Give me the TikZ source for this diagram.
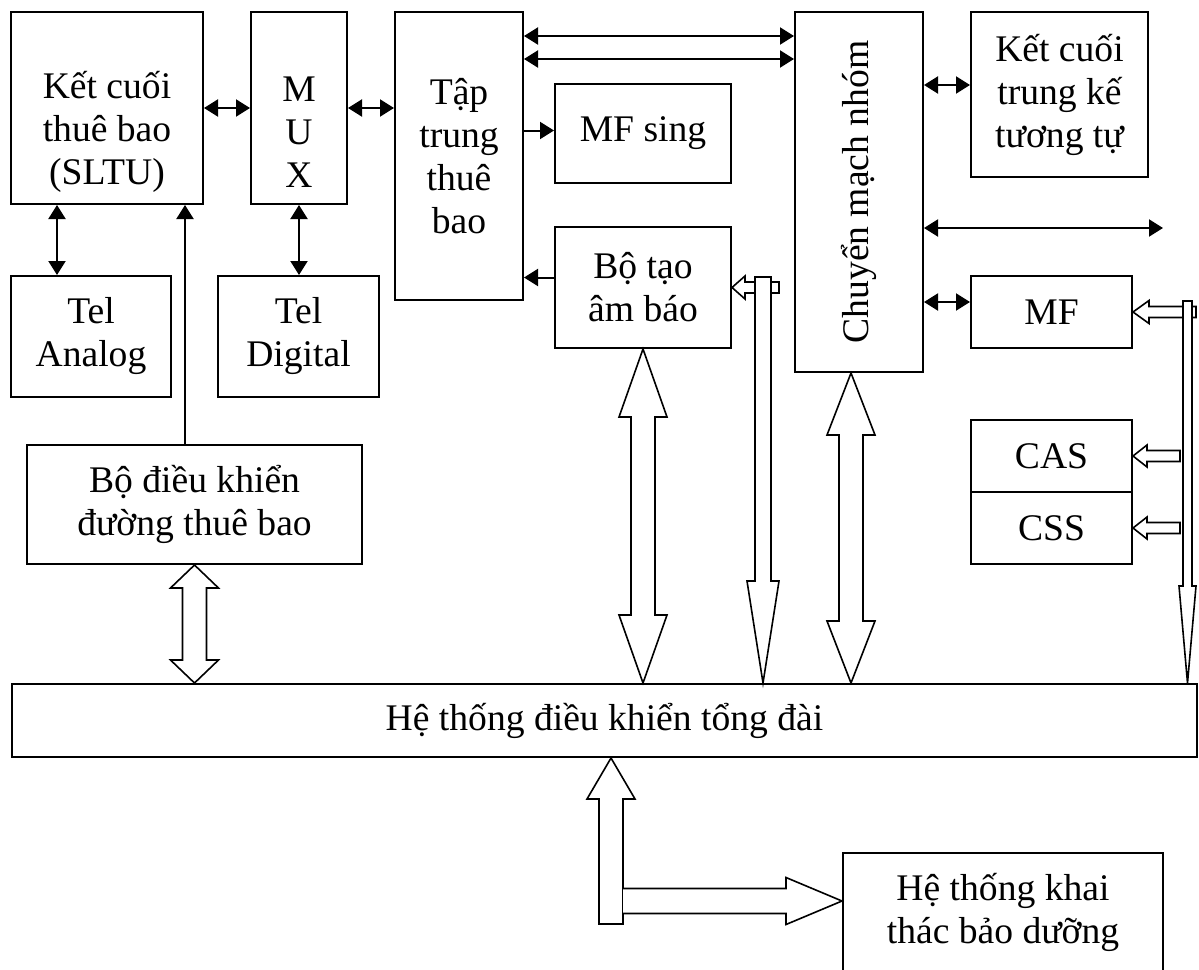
\documentclass[tikz,border=0pt]{standalone}
\usepackage{fontspec}
\setmainfont{Liberation Serif}
\usetikzlibrary{arrows.meta,calc}

% hollow double-headed vertical arrow: top, bottom, shaft half width, head half width, head length
\newcommand\hollowdbl[5]{\draw[hollow] let \p1=#1, \p2=#2 in
  (\x1,\y1) -- (\x1+#4,\y1-#5) -- (\x1+#3,\y1-#5) -- (\x1+#3,\y2+#5) -- (\x1+#4,\y2+#5)
  -- (\x1,\y2) -- (\x1-#4,\y2+#5) -- (\x1-#3,\y2+#5) -- (\x1-#3,\y1-#5) -- (\x1-#4,\y1-#5) -- cycle;}
% narrow bus bar ending in a long downward head: top, tip, bar half width, head half width, head length
\newcommand\hollowbar[5]{\draw[hollow] let \p1=#1, \p2=#2 in
  (\x1-#3,\y1) -- (\x1+#3,\y1) -- (\x1+#3,\y2+#5) -- (\x1+#4,\y2+#5) -- (\x1,\y2)
  -- (\x1-#4,\y2+#5) -- (\x1-#3,\y2+#5) -- cycle;}
% hollow arrow pointing left: tail, tip
\newcommand\hollowleft[5]{\draw[hollow] let \p1=#1, \p2=#2 in
  (\x1,\y2+#3) -- (\x2+#5,\y2+#3) -- (\x2+#5,\y2+#4) -- (\x2,\y2) -- (\x2+#5,\y2-#4)
  -- (\x2+#5,\y2-#3) -- (\x1,\y2-#3) -- cycle;}
% hollow arrow pointing right, open at its tail: tail, tip
\newcommand\hollowright[5]{\draw[hollow] let \p1=#1, \p2=#2 in
  (\x1,\y2+#3) -- (\x2-#5,\y2+#3) -- (\x2-#5,\y2+#4) -- (\x2,\y2) -- (\x2-#5,\y2-#4)
  -- (\x2-#5,\y2-#3) -- (\x1,\y2-#3);}
% hollow arrow pointing up: tip, tail
\newcommand\hollowup[5]{\draw[hollow] let \p1=#1, \p2=#2 in
  (\x1,\y1) -- (\x1+#4,\y1-#5) -- (\x1+#3,\y1-#5) -- (\x1+#3,\y2) -- (\x1-#3,\y2)
  -- (\x1-#3,\y1-#5) -- (\x1-#4,\y1-#5) -- cycle;}

\begin{document}
\begin{tikzpicture}[x=0.5pt,y=-0.5pt,
  font=\fontsize{18.8}{21.5}\selectfont,
  box/.style={draw,line width=1pt,inner sep=0pt,align=center},
  txt/.style={align=center,inner sep=0pt},
  link/.style={line width=1pt,>={Triangle[length=7pt,width=8.5pt]}},
  hollow/.style={draw,line width=0.8pt,fill=white,line join=miter}]

\useasboundingbox (0,0) rectangle (1199,969);
\fill[white] (0,0) rectangle (1199,969);

% blocks
\node[box,minimum width=96pt,minimum height=96pt,
  label={[txt,name=slt-l,yshift=-12pt]center:Kết cuối\\thuê bao\\(SLTU)}] (slt) at (107,108) {};
\node[box,minimum width=48pt,minimum height=96pt,
  label={[txt,name=mux-l,yshift=-12pt]center:M\\U\\X}] (mux) at (299,108) {};
\node[box,minimum width=64pt,minimum height=144pt] (tap) at (459,156) {Tập\\trung\\thuê\\bao};
\node[box,minimum width=88pt,minimum height=49.5pt] (mfs) at (643,133.5) {MF sing};
\node[box,minimum width=88pt,minimum height=60.5pt] (tone) at (643,287.5) {Bộ tạo\\âm báo};
\node[box,minimum width=64pt,minimum height=180pt,
  label={[txt,name=gs-l,rotate=90]center:Chuyển mạch nhóm}] (gs) at (859,192) {};
\node[box,minimum width=88.5pt,minimum height=82.5pt] (trunk) at (1059.5,94.5) {Kết cuối\\trung kế\\tương tự};
\node[box,minimum width=80.5pt,minimum height=36pt] (mf) at (1051.5,312) {MF};
\node[box,minimum width=80.5pt,minimum height=36pt] (cas) at (1051.5,456) {CAS};
\node[box,minimum width=80.5pt,minimum height=36pt] (css) at (1051.5,528) {CSS};
\node[box,minimum width=80pt,minimum height=60.5pt] (telA) at (91,336.5) {Tel\\Analog};
\node[box,minimum width=80.5pt,minimum height=60.5pt] (telD) at (298.5,336.5) {Tel\\Digital};
\node[box,minimum width=167.5pt,minimum height=59.5pt] (slc) at (194.5,504.5) {Bộ điều khiển\\đường thuê bao};
\node[box,minimum width=592.5pt,minimum height=36.5pt] (ctl) at (604.5,720.5) {Hệ thống điều khiển tổng đài};
\node[box,minimum width=160pt,minimum height=59.5pt] (oam) at (1003,912.5) {Hệ thống khai\\thác bảo dưỡng};

% thin signal links
\coordinate (p1) at ($(slt.south west)+(47,0)$);
\coordinate (p2) at ($(slc.north west)+(159,0)$);
\coordinate (p3) at ($(tone.west)+(0,-10)$);
\coordinate (p4) at ($(tap.north east)+(0,25)$);
\coordinate (p5) at ($(tap.north east)+(0,48)$);
\coordinate (p6) at ($(trunk.west)+(0,-9.5)$);
\coordinate (p7) at ($(mf.west)+(0,-10)$);
\coordinate (p8) at ($(mfs.west)+(0,-3)$);
\coordinate (ext) at (1163,228);

\draw[link,<->] (slt.east) -- (mux.west);
\draw[link,<->] (mux.east) -- (mux.east -| tap.west);
\draw[link,<->] (p1) -- (p1 |- telA.north);
\draw[link,<->] (mux.south) -- (mux.south |- telD.north);
\draw[link,->] (p2) -- (p2 |- slt.south);
\draw[link,->] (p8 -| tap.east) -- (p8);
\draw[link,->] (p3) -- (p3 -| tap.east);
\draw[link,<->] (p4) -- (p4 -| gs.west);
\draw[link,<->] (p5) -- (p5 -| gs.west);
\draw[link,<->] (gs.east |- p6) -- (p6);
\draw[link,<->] (gs.east |- ext) -- (ext);
\draw[link,<->] (gs.east |- p7) -- (p7);

% control buses
\hollowdbl{(slc.south)}{(slc.south |- ctl.north)}{6pt}{12pt}{11.5pt}
\hollowdbl{(tone.south)}{(tone.south |- ctl.north)}{6pt}{12pt}{34pt}
\coordinate (gsb) at ($(gs.south)+(-8,0)$);
\hollowdbl{(gsb)}{(gsb |- ctl.north)}{6pt}{12pt}{31pt}

\coordinate (tbtail) at (779,288);
\coordinate (tbtop) at (763,277);
\hollowleft{(tbtail)}{(tone.east)}{2.75pt}{5.75pt}{6.5pt}
\hollowbar{(tbtop)}{(tbtop |- ctl.north)}{4pt}{8pt}{51pt}

\coordinate (mbtail) at (1196,312);
\coordinate (mbtop) at (1187.5,301);
\hollowleft{(mbtail)}{(mf.east)}{2.75pt}{5.75pt}{8pt}
\hollowbar{(mbtop)}{(mbtop |- ctl.north)}{2.25pt}{4.25pt}{48.5pt}

\coordinate (castail) at (1180,456);
\coordinate (csstail) at (1180,528);
\hollowleft{(castail)}{(cas.east)}{2.75pt}{5.5pt}{7pt}
\hollowleft{(csstail)}{(css.east)}{2.75pt}{5.5pt}{7pt}

\coordinate (upt) at ($(ctl.south)+(6.5,0)$);
\coordinate (upb) at (611,924);
\coordinate (rt) at (623,901);
\hollowup{(upt)}{(upb)}{6pt}{12pt}{20.5pt}
\hollowright{(rt)}{($(oam.west)+(0,-11.5)$)}{6.25pt}{11.75pt}{28pt}

\end{tikzpicture}
\end{document}
